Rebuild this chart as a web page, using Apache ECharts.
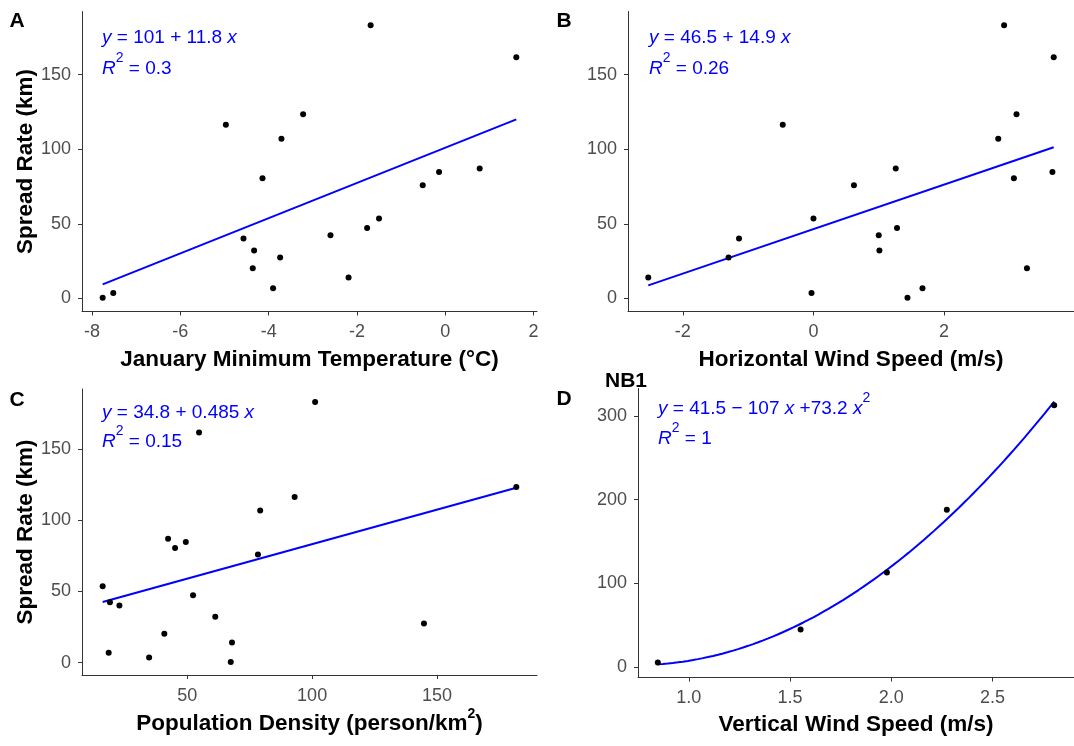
<!DOCTYPE html>
<html>
<head>
<meta charset="utf-8">
<script src="https://cdn.jsdelivr.net/npm/echarts@6/dist/echarts.min.js"></script>
<style>
  html, body { margin: 0; padding: 0; background: #fff; }
  #chart { width: 1074px; height: 746px; }
</style>
</head>
<body>
<div id="chart"></div>
<script>
// Spread rate (km) shared by panels A-C, one entry per observation
const spreadRate = [0.4, 3.6, 6.9, 14.1, 20.3, 27.5, 32.2, 40.2, 42.4, 47.3, 53.6, 75.9, 80.6, 84.7, 87.1, 107, 116.4, 123.5, 161.7, 183.2];
// Predictors, same observation order as spreadRate
const janMinTemp = [-7.76, -7.52, -3.90, -2.19, -4.36, -3.74, -4.33, -4.57, -2.60, -1.77, -1.50, -0.51, -4.14, -0.14, 0.78, -3.71, -4.97, -3.22, 1.61, -1.69];
const windHorizontal = [1.44, -0.03, 1.67, -2.53, 3.27, -1.30, 1.01, -1.14, 1.00, 1.28, 0.00, 0.62, 3.07, 3.66, 1.26, 2.83, -0.47, 3.11, 3.68, 2.92];
const popDensity = [67.4, 34.7, 18.5, 67.9, 40.8, 144.8, 61.2, 22.8, 19.0, 52.3, 16.1, 78.3, 45.1, 49.4, 42.3, 79.2, 93.0, 181.8, 54.7, 101.2];
// NB1 subset
const windVertical = [0.847, 1.552, 1.978, 2.274, 2.804];
const spreadNB1 = [5.5, 44.9, 113, 188, 312.6];

// Fitted coefficients (intercept, slope[, quadratic]) and R² labels
const fitTemp = [101, 11.8];
const fitWindH = [46.5, 14.9];
const fitPop = [34.8, 0.485];
const fitWindV = [41.5, -107, 73.2];
const r2Labels = ['0.3', '0.26', '0.15', '1'];

// Tick values
const ticksTemp = [-8, -6, -4, -2, 0, 2];
const ticksWindH = [-2, 0, 2];
const ticksPop = [50, 100, 150];
const ticksWindV = [1.0, 1.5, 2.0, 2.5];
const ticksRate = [0, 50, 100, 150];
const ticksNB1 = [0, 100, 200, 300];

const FONT = '"Liberation Sans", Arial, Helvetica, sans-serif';
const BLUE = '#0000ff';
const AXIS_COLOR = '#333333';

function poly(coef, x) {
  let y = 0;
  for (let i = 0; i < coef.length; i++) y += coef[i] * Math.pow(x, i);
  return y;
}
function fitLine(coef, xs) {
  const lo = Math.min(...xs), hi = Math.max(...xs);
  const n = coef.length > 2 ? 80 : 2;
  const pts = [];
  for (let i = 0; i < n; i++) {
    const x = lo + (hi - lo) * i / (n - 1);
    pts.push([x, poly(coef, x)]);
  }
  return pts;
}
function padded(values) {
  const lo = Math.min(...values), hi = Math.max(...values);
  const e = (hi - lo) * 0.05;
  return { min: lo - e, max: hi + e };
}
function zip(xs, ys) { return xs.map((x, i) => [x, ys[i]]); }

const panels = [
  { xs: janMinTemp, ys: spreadRate, coef: fitTemp, xt: ticksTemp, yt: ticksRate,
    xname: 'January Minimum Temperature (°C)', yname: 'Spread Rate (km)', gap: 37 },
  { xs: windHorizontal, ys: spreadRate, coef: fitWindH, xt: ticksWindH, yt: ticksRate,
    xname: 'Horizontal Wind Speed (m/s)', yname: '', gap: 37 },
  { xs: popDensity, ys: spreadRate, coef: fitPop, xt: ticksPop, yt: ticksRate,
    xname: '{t|Population Density (person/km}{s|2}{t|)}', yname: 'Spread Rate (km)', gap: 32 },
  { xs: windVertical, ys: spreadNB1, coef: fitWindV, xt: ticksWindV, yt: ticksNB1,
    xname: 'Vertical Wind Speed (m/s)', yname: '', gap: 36, xfmt: v => v.toFixed(1) }
];

const gridBoxes = [
  { left: 82, top: 11.5, width: 455, height: 300 },
  { left: 628, top: 11.5, width: 455, height: 300 },
  { left: 82, top: 389, width: 455, height: 286 },
  { left: 638, top: 388.5, width: 445, height: 289 }
];

const titleStyle = {
  fontFamily: FONT, fontSize: 22.5, fontWeight: 'bold', color: '#000',
  rich: {
    t: { fontFamily: FONT, fontSize: 22.5, fontWeight: 'bold', color: '#000', lineHeight: 34 },
    s: { fontFamily: FONT, fontSize: 14, fontWeight: 'bold', color: '#000', lineHeight: 14, verticalAlign: 'top' }
  }
};

const grid = [], xAxis = [], yAxis = [], series = [];
panels.forEach((p, i) => {
  grid.push(Object.assign({ containLabel: false }, gridBoxes[i]));
  const fit = fitLine(p.coef, p.xs);
  const xr = padded(p.xs);
  const yr = padded(p.ys.concat(fit.map(d => d[1])));
  const common = {
    gridIndex: i, type: 'value',
    splitLine: { show: false },
    axisLine: { show: true, onZero: false, lineStyle: { color: AXIS_COLOR, width: 1 } },
    nameLocation: 'middle',
    nameTextStyle: titleStyle
  };
  xAxis.push(Object.assign({}, common, {
    min: xr.min, max: xr.max,
    name: p.xname, nameGap: p.gap,
    axisTick: { show: true, customValues: p.xt, length: 4, lineStyle: { color: AXIS_COLOR } },
    axisLabel: { customValues: p.xt, fontFamily: FONT, fontSize: 18, color: '#4d4d4d', margin: 12,
                 formatter: p.xfmt || (v => String(v)) }
  }));
  yAxis.push(Object.assign({}, common, {
    min: yr.min, max: yr.max,
    name: p.yname, nameGap: 43,
    axisTick: { show: true, customValues: p.yt, length: 4, lineStyle: { color: AXIS_COLOR } },
    axisLabel: { customValues: p.yt, fontFamily: FONT, fontSize: 18, color: '#4d4d4d', margin: 11 }
  }));
  series.push({
    type: 'line', xAxisIndex: i, yAxisIndex: i, data: fit,
    showSymbol: false, smooth: false, silent: true,
    lineStyle: { color: BLUE, width: 2 }, z: 2
  });
  series.push({
    type: 'scatter', xAxisIndex: i, yAxisIndex: i, data: zip(p.xs, p.ys),
    symbolSize: 6, itemStyle: { color: '#000', opacity: 1 }, z: 3
  });
});

// Equation annotations
const eqRich = {
  i: { fontFamily: FONT, fontSize: 19, fontStyle: 'italic', fill: BLUE, lineHeight: 36 },
  n: { fontFamily: FONT, fontSize: 19, fill: BLUE, lineHeight: 36 },
  s: { fontFamily: FONT, fontSize: 14, fill: BLUE, lineHeight: 14, verticalAlign: 'top' }
};
function signed(v) { return v < 0 ? '\u2212 ' + String(-v) : '+ ' + String(v); }
const eqTexts = [
  '{i|y}{n| = ' + fitTemp[0] + ' ' + signed(fitTemp[1]) + ' }{i|x}',
  '{i|y}{n| = ' + fitWindH[0] + ' ' + signed(fitWindH[1]) + ' }{i|x}',
  '{i|y}{n| = ' + fitPop[0] + ' ' + signed(fitPop[1]) + ' }{i|x}',
  '{i|y}{n| = ' + fitWindV[0] + ' ' + signed(fitWindV[1]) + ' }{i|x}{n| ' + signed(fitWindV[2]).replace(' ', '') + ' }{i|x}{s|2}'
];
const eqPos = [
  { x: 102, y1: 38, y2: 69 },
  { x: 649, y1: 38, y2: 69 },
  { x: 102, y1: 413, y2: 442 },
  { x: 658, y1: 409, y2: 439 }
];
const graphic = [];
eqTexts.forEach((t, i) => {
  graphic.push({ type: 'text', x: eqPos[i].x, y: eqPos[i].y1, silent: true,
    style: { text: t, rich: eqRich, fill: BLUE, align: 'left', verticalAlign: 'middle' } });
  graphic.push({ type: 'text', x: eqPos[i].x, y: eqPos[i].y2, silent: true,
    style: { text: '{i|R}{s|2}{n| = ' + r2Labels[i] + '}', rich: eqRich, fill: BLUE, align: 'left', verticalAlign: 'middle' } });
});

// Panel tags and NB1 subtitle
const tags = [['A', 17, 21], ['B', 564, 21], ['C', 17, 400], ['D', 564, 399], ['NB1', 626, 381]];
tags.forEach(([t, x, y]) => {
  graphic.push({ type: 'text', x, y, silent: true,
    style: { text: t, fontFamily: FONT, fontSize: 21, fontWeight: 'bold', fill: '#000',
             align: 'center', verticalAlign: 'middle' } });
});

const chart = echarts.init(document.getElementById('chart'), null, { renderer: 'canvas' });
chart.setOption({
  animation: false,
  backgroundColor: '#fff',
  grid, xAxis, yAxis, series, graphic
});
</script>
</body>
</html>
